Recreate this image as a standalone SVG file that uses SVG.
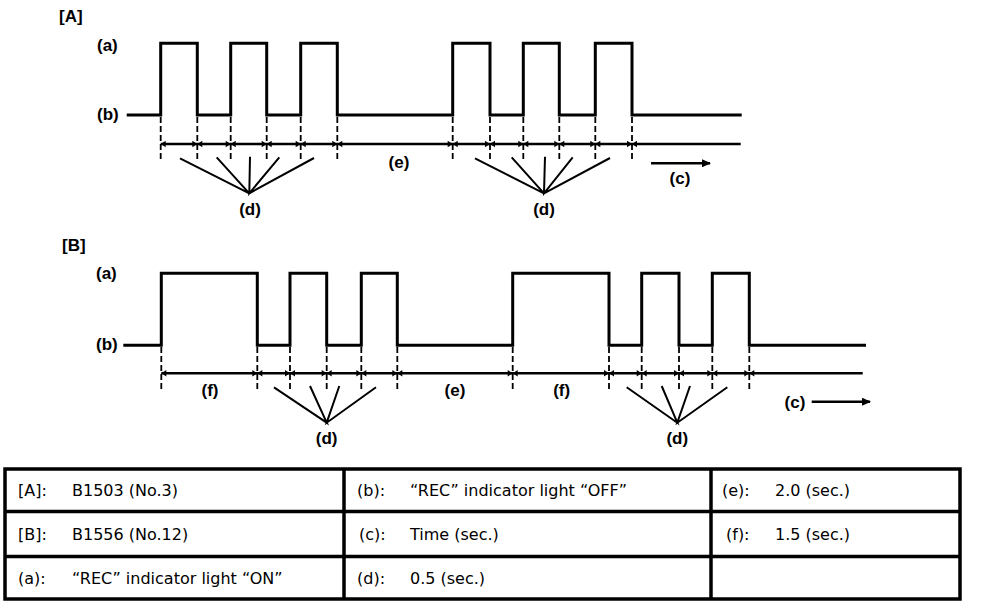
<svg xmlns="http://www.w3.org/2000/svg" xmlns:xlink="http://www.w3.org/1999/xlink" width="992" height="608" viewBox="0 0 992 608">
<style>
.lbl{font-family:"Liberation Sans",Arial,sans-serif;font-weight:bold;font-size:17px;fill:#000}
.mid{text-anchor:middle}
.wave{fill:none;stroke:#000;stroke-width:3;stroke-linejoin:miter}
.dim{stroke:#000;stroke-width:2.5}
.ext{stroke:#000;stroke-width:1.8;stroke-dasharray:6 3}
.fan{stroke:#000;stroke-width:2;fill:none}
.arr{stroke:#000;stroke-width:2.5}
.tbl{fill:none;stroke:#000;stroke-width:3.5}
.tt{font-family:"DejaVu Sans",Verdana,sans-serif;font-size:16px;fill:#000}
</style>
<defs>
<polygon id="ar" points="0,0 -5,-3.2 -5,3.2" fill="#000"/>
<polygon id="al" points="0,0 5,-3.2 5,3.2" fill="#000"/>
<marker id="head" markerWidth="10" markerHeight="8" refX="8" refY="4" orient="auto" markerUnits="userSpaceOnUse">
<polygon points="0,0 9,4 0,8" fill="#000"/>
</marker>
</defs>

<g id="sectionA">
<text class="lbl" x="59" y="22">[A]</text>
<text class="lbl" x="97" y="50.5">(a)</text>
<text class="lbl" x="97" y="120">(b)</text>
<path id="waveA" class="wave" d="M126.7,115 H160.7 V43.3 H197.3 V115 H230.7 V43.3 H266.7 V115 H300.7 V43.3 H337.3 V115 H452.7 V43.3 H490 V115 H523.3 V43.3 H559.3 V115 H595.3 V43.3 H632 V115 H741.7"/>
</g>

<g id="connectorsA">
<g id="extA">
<line class="ext" x1="160.7" y1="117" x2="160.7" y2="162"/>
<line class="ext" x1="197.3" y1="117" x2="197.3" y2="162"/>
<line class="ext" x1="230.7" y1="117" x2="230.7" y2="162"/>
<line class="ext" x1="266.7" y1="117" x2="266.7" y2="162"/>
<line class="ext" x1="300.7" y1="117" x2="300.7" y2="162"/>
<line class="ext" x1="337.3" y1="117" x2="337.3" y2="162"/>
<line class="ext" x1="452.7" y1="117" x2="452.7" y2="162"/>
<line class="ext" x1="490" y1="117" x2="490" y2="162"/>
<line class="ext" x1="523.3" y1="117" x2="523.3" y2="162"/>
<line class="ext" x1="559.3" y1="117" x2="559.3" y2="162"/>
<line class="ext" x1="595.3" y1="117" x2="595.3" y2="162"/>
<line class="ext" x1="632" y1="117" x2="632" y2="162"/>
</g>
<line class="dim" x1="160.7" y1="144" x2="740.7" y2="144"/>
<g id="arrowsA">
<use xlink:href="#al" x="160.7" y="144"/>
<use xlink:href="#ar" x="197.3" y="144"/><use xlink:href="#al" x="197.3" y="144"/>
<use xlink:href="#ar" x="230.7" y="144"/><use xlink:href="#al" x="230.7" y="144"/>
<use xlink:href="#ar" x="266.7" y="144"/><use xlink:href="#al" x="266.7" y="144"/>
<use xlink:href="#ar" x="300.7" y="144"/><use xlink:href="#al" x="300.7" y="144"/>
<use xlink:href="#ar" x="337.3" y="144"/><use xlink:href="#al" x="337.3" y="144"/>
<use xlink:href="#ar" x="452.7" y="144"/><use xlink:href="#al" x="452.7" y="144"/>
<use xlink:href="#ar" x="490" y="144"/><use xlink:href="#al" x="490" y="144"/>
<use xlink:href="#ar" x="523.3" y="144"/><use xlink:href="#al" x="523.3" y="144"/>
<use xlink:href="#ar" x="559.3" y="144"/><use xlink:href="#al" x="559.3" y="144"/>
<use xlink:href="#ar" x="595.3" y="144"/><use xlink:href="#al" x="595.3" y="144"/>
<use xlink:href="#ar" x="632" y="144"/><use xlink:href="#al" x="632" y="144"/>
</g>
<path class="fan" d="M180,158.3 L249.3,193.3 L216.7,157.3 M250,156.7 L249.3,193.3 L279.3,157.3 M314,158 L249.3,193.3"/>
<path class="fan" d="M475,158.3 L544,193.3 L511.7,157.3 M545,156.7 L544,193.3 L572.7,157.3 M610,158 L544,193.3"/>
<line class="arr" x1="651" y1="163.3" x2="710" y2="163.3" marker-end="url(#head)"/>
<text class="lbl mid" x="399" y="167.5">(e)</text>
<text class="lbl mid" x="250" y="214.5">(d)</text>
<text class="lbl mid" x="544" y="214.5">(d)</text>
<text class="lbl mid" x="680" y="183.5">(c)</text>
</g>

<g id="sectionB">
<text class="lbl" x="62" y="250.5">[B]</text>
<text class="lbl" x="96" y="278.5">(a)</text>
<text class="lbl" x="96" y="350">(b)</text>
<path id="waveB" class="wave" d="M123.3,345.3 H161.3 V273.3 H257.3 V345.3 H290 V273.3 H326.7 V345.3 H361.3 V273.3 H397.3 V345.3 H512.7 V273.3 H609 V345.3 H641.7 V273.3 H679 V345.3 H712.3 V273.3 H749.3 V345.3 H866"/>
</g>

<g id="connectorsB">
<g id="extB">
<line class="ext" x1="161.3" y1="347" x2="161.3" y2="392"/>
<line class="ext" x1="257.3" y1="347" x2="257.3" y2="392"/>
<line class="ext" x1="290" y1="347" x2="290" y2="392"/>
<line class="ext" x1="326.7" y1="347" x2="326.7" y2="392"/>
<line class="ext" x1="361.3" y1="347" x2="361.3" y2="392"/>
<line class="ext" x1="397.3" y1="347" x2="397.3" y2="392"/>
<line class="ext" x1="512.7" y1="347" x2="512.7" y2="392"/>
<line class="ext" x1="609" y1="347" x2="609" y2="392"/>
<line class="ext" x1="641.7" y1="347" x2="641.7" y2="392"/>
<line class="ext" x1="679" y1="347" x2="679" y2="392"/>
<line class="ext" x1="712.3" y1="347" x2="712.3" y2="392"/>
<line class="ext" x1="749.3" y1="347" x2="749.3" y2="392"/>
</g>
<line class="dim" x1="161.3" y1="373.3" x2="862.7" y2="373.3"/>
<g id="arrowsB">
<use xlink:href="#al" x="161.3" y="373.3"/>
<use xlink:href="#ar" x="257.3" y="373.3"/><use xlink:href="#al" x="257.3" y="373.3"/>
<use xlink:href="#ar" x="290" y="373.3"/><use xlink:href="#al" x="290" y="373.3"/>
<use xlink:href="#ar" x="326.7" y="373.3"/><use xlink:href="#al" x="326.7" y="373.3"/>
<use xlink:href="#ar" x="361.3" y="373.3"/><use xlink:href="#al" x="361.3" y="373.3"/>
<use xlink:href="#ar" x="397.3" y="373.3"/><use xlink:href="#al" x="397.3" y="373.3"/>
<use xlink:href="#ar" x="512.7" y="373.3"/><use xlink:href="#al" x="512.7" y="373.3"/>
<use xlink:href="#ar" x="609" y="373.3"/><use xlink:href="#al" x="609" y="373.3"/>
<use xlink:href="#ar" x="641.7" y="373.3"/><use xlink:href="#al" x="641.7" y="373.3"/>
<use xlink:href="#ar" x="679" y="373.3"/><use xlink:href="#al" x="679" y="373.3"/>
<use xlink:href="#ar" x="712.3" y="373.3"/><use xlink:href="#al" x="712.3" y="373.3"/>
<use xlink:href="#ar" x="749.3" y="373.3"/><use xlink:href="#al" x="749.3" y="373.3"/>
</g>
<path class="fan" d="M274,387.3 L326.7,422.7 L310,386 M339.3,386 L326.7,422.7 L376,387.3"/>
<path class="fan" d="M626.7,387.3 L677.3,422.7 L661.7,386 M690,386 L677.3,422.7 L727.3,387.3"/>
<line class="arr" x1="811.7" y1="401.7" x2="870" y2="401.7" marker-end="url(#head)"/>
<text class="lbl mid" x="210" y="395.5">(f)</text>
<text class="lbl mid" x="455" y="395.5">(e)</text>
<text class="lbl mid" x="561.7" y="395.5">(f)</text>
<text class="lbl mid" x="326.7" y="443.5">(d)</text>
<text class="lbl mid" x="677.3" y="443.5">(d)</text>
<text class="lbl mid" x="795" y="407.5">(c)</text>
</g>

<g id="legend">
<rect class="tbl" x="5" y="469" width="955" height="130"/>
<line class="tbl" x1="5" y1="511.5" x2="960" y2="511.5"/>
<line class="tbl" x1="5" y1="556.5" x2="960" y2="556.5"/>
<line class="tbl" x1="344" y1="469" x2="344" y2="599"/>
<line class="tbl" x1="711" y1="469" x2="711" y2="599"/>
<text class="tt" x="18" y="496">[A]:</text>
<text class="tt" x="72" y="496">B1503 (No.3)</text>
<text class="tt" x="357" y="496">(b):</text>
<text class="tt" x="410" y="496">“REC” indicator light “OFF”</text>
<text class="tt" x="722" y="496">(e):</text>
<text class="tt" x="775" y="496">2.0 (sec.)</text>
<text class="tt" x="18" y="540">[B]:</text>
<text class="tt" x="72" y="540">B1556 (No.12)</text>
<text class="tt" x="359" y="540">(c):</text>
<text class="tt" x="410" y="540">Time (sec.)</text>
<text class="tt" x="726" y="540">(f):</text>
<text class="tt" x="775" y="540">1.5 (sec.)</text>
<text class="tt" x="18" y="584">(a):</text>
<text class="tt" x="72" y="584">“REC” indicator light “ON”</text>
<text class="tt" x="357" y="584">(d):</text>
<text class="tt" x="410" y="584">0.5 (sec.)</text>
</g>
</svg>
